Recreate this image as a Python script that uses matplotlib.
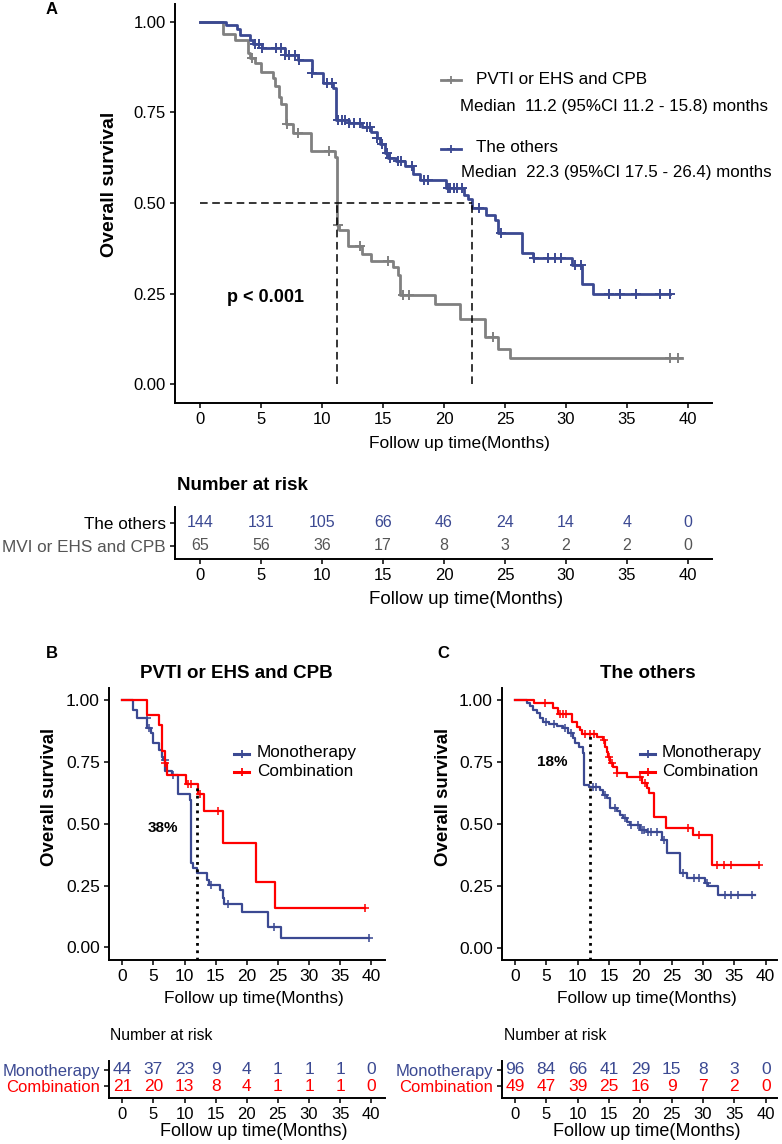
import numpy as np
import matplotlib
matplotlib.use('Agg')
import matplotlib.pyplot as plt
from matplotlib.lines import Line2D

plt.rcParams['font.family'] = ['Liberation Sans', 'DejaVu Sans']

# ---------------- data ----------------
# Panel A, PVTI or EHS and CPB (grey)
a_pvti_t = [1.9, 2.85, 3.9, 4.1, 4.5, 5.0, 5.95, 6.15, 6.5, 6.6, 7.05, 7.65, 9.1, 11.05, 11.2,
            11.42, 12.15, 13.25, 14.05, 15.85, 16.25, 16.4, 19.25, 21.3, 23.35, 24.45, 25.4]
a_pvti_s = [0.966, 0.949, 0.913, 0.899, 0.885, 0.860, 0.844, 0.822, 0.791, 0.773, 0.717, 0.694, 0.642, 0.627,
            0.439, 0.425, 0.38, 0.36, 0.340, 0.324, 0.301, 0.246, 0.222, 0.179, 0.130, 0.098, 0.073]
a_pvti_end = 39.5
a_pvti_cens = [4.3, 7.1, 8.0, 10.6, 11.3, 13.1, 15.4, 16.6, 17.1, 24.05, 38.5, 39.2]

# Panel A, the others (blue)
a_oth_t = [2.1, 3.0, 3.3, 4.1, 4.35, 5.05, 6.95, 8.05, 9.15, 10.1, 10.9, 11.15, 12.2, 13.25, 14.05, 14.5,
           14.75, 15.2, 15.4, 16.1, 16.8, 17.5, 18.0, 20.2, 21.6, 22.0, 22.3, 23.45, 24.2, 24.4, 26.4,
           27.3, 30.5, 31.3, 32.2]
a_oth_s = [0.991, 0.979, 0.963, 0.951, 0.940, 0.927, 0.908, 0.894, 0.859, 0.830, 0.816, 0.729, 0.720,
           0.710, 0.697, 0.678, 0.664, 0.637, 0.623, 0.616, 0.603, 0.581, 0.563, 0.540, 0.522, 0.510,
           0.485, 0.466, 0.453, 0.416, 0.363, 0.347, 0.328, 0.276, 0.250]
a_oth_end = 38.5
a_oth_cens = [4.5, 4.8, 5.1, 6.2, 6.6, 7.0, 7.3, 7.8, 8.1, 9.2, 10.4, 10.8, 11.3, 11.6, 11.9, 12.2, 12.6,
              13.1, 13.7, 13.9, 14.5, 14.9, 15.3, 15.6, 16.2, 16.5, 17.4, 18.4, 18.7, 20.3, 20.5, 20.8,
              21.05, 21.45, 22.9, 24.7, 27.4, 28.5, 29.1, 29.6, 30.7, 31.2, 33.5, 34.4, 35.7, 37.7, 38.5]

median_pvti = 11.2
median_oth = 22.3

# Panel B (PVTI or EHS and CPB): monotherapy / combination
b_mono_t = [1.77, 2.3, 4.02, 4.56, 4.99, 5.95, 6.33, 6.6, 6.92, 7.94, 9.0, 10.9, 11.05, 11.4, 11.96,
            13.57, 14.0, 15.7, 16.1, 16.35, 19.2, 23.4, 25.5]
b_mono_s = [0.961, 0.927, 0.887, 0.866, 0.826, 0.799, 0.772, 0.758, 0.715, 0.698, 0.621, 0.597, 0.340,
            0.320, 0.300, 0.273, 0.252, 0.232, 0.198, 0.175, 0.142, 0.084, 0.040]
b_mono_end = 39.6
b_mono_cens = [3.9, 4.3, 6.9, 8.2, 14.3, 17.0, 24.3, 39.6]

b_comb_t = [3.91, 5.9, 6.43, 6.86, 7.13, 10.24, 12.23, 13.14, 16.25, 21.45, 24.56]
b_comb_s = [0.939, 0.900, 0.796, 0.745, 0.698, 0.661, 0.621, 0.552, 0.424, 0.263, 0.158]
b_comb_end = 39.0
b_comb_cens = [6.9, 10.5, 11.1, 12.4, 15.4, 39.0]

# Panel C (the others): monotherapy / combination
c_mono_t = [1.97, 2.39, 2.93, 3.46, 3.99, 4.52, 5.48, 6.65, 7.71, 8.51, 9.2, 9.57, 10.27, 10.8, 11.06,
            11.86, 13.56, 14.1, 14.63, 15.16, 16.22, 16.76, 17.29, 17.82, 18.35, 19.95, 21.0, 23.4,
            24.2, 26.33, 27.4, 30.3, 30.85, 32.45]
c_mono_s = [0.991, 0.977, 0.961, 0.948, 0.927, 0.914, 0.905, 0.897, 0.887, 0.867, 0.847, 0.827, 0.813,
            0.786, 0.659, 0.652, 0.638, 0.618, 0.605, 0.565, 0.555, 0.538, 0.524, 0.511, 0.497, 0.477,
            0.468, 0.437, 0.383, 0.305, 0.282, 0.262, 0.253, 0.215]
c_mono_end = 38.3
c_mono_cens = [5.0, 6.2, 8.0, 9.0, 12.4, 13.0, 14.4, 16.0, 17.5, 18.5, 19.6, 20.3, 20.6, 21.3, 21.7,
               22.6, 23.7, 26.8, 28.5, 29.3, 30.6, 33.5, 34.5, 35.6, 37.8]

c_comb_t = [3.03, 6.12, 6.91, 9.04, 9.84, 10.37, 10.64, 13.03, 14.1, 14.36, 14.63, 14.89, 15.16, 15.69,
            16.22, 17.82, 20.21, 21.0, 21.44, 22.23, 24.1, 28.46, 31.38]
c_comb_s = [0.991, 0.968, 0.945, 0.914, 0.891, 0.880, 0.864, 0.851, 0.840, 0.813, 0.793, 0.773, 0.749,
            0.733, 0.706, 0.692, 0.665, 0.645, 0.625, 0.528, 0.484, 0.457, 0.336]
c_comb_end = 39.0
c_comb_cens = [4.8, 7.2, 7.7, 8.1, 11.2, 12.0, 12.6, 14.2, 15.0, 15.4, 16.3, 20.0, 20.8, 27.6, 29.4,
               32.3, 33.3, 34.5, 39.0]

landmark = 12

# numbers at risk
risk_times = [0, 5, 10, 15, 20, 25, 30, 35, 40]
risk_a_oth = [144, 131, 105, 66, 46, 24, 14, 4, 0]
risk_a_pvti = [65, 56, 36, 17, 8, 3, 2, 2, 0]
risk_b_mono = [44, 37, 23, 9, 4, 1, 1, 1, 0]
risk_b_comb = [21, 20, 13, 8, 4, 1, 1, 1, 0]
risk_c_mono = [96, 84, 66, 41, 29, 15, 8, 3, 0]
risk_c_comb = [49, 47, 39, 25, 16, 9, 7, 2, 0]

BLUE = '#3B4992'
GREY = '#808080'
RED = '#FF0000'
DGREY = '#555555'

W, H = 782, 1144
fig = plt.figure(figsize=(W / 100, H / 100), dpi=100)


def add_ax(l, t, r, b):
    return fig.add_axes([l / W, 1 - b / H, (r - l) / W, (b - t) / H])


def ftext(x, y, s, **kw):
    kw.setdefault('ha', 'center')
    kw.setdefault('va', 'center')
    return fig.text(x / W, 1 - y / H, s, **kw)


def surv_at(t, s, x):
    idx = np.searchsorted(t, x, side='right')
    vals = np.concatenate([[1.0], s])
    return vals[idx]


def km(ax, t, s, t_end, cens, color, lw, ms):
    xs = np.concatenate([[0], t, [t_end]])
    ys = np.concatenate([[1], s, [s[-1]]])
    ax.step(xs, ys, where='post', color=color, lw=lw)
    ax.plot(cens, surv_at(t, s, cens), ls='none', marker='+', ms=ms, mew=lw * 0.7, color=color)


def style(ax, xlim, ylim, fs, yticks=True):
    for sp in ['top', 'right']:
        ax.spines[sp].set_visible(False)
    for sp in ['left', 'bottom']:
        ax.spines[sp].set_linewidth(1.4)
    ax.set_xlim(*xlim)
    ax.set_ylim(*ylim)
    ax.set_xticks(risk_times)
    ax.tick_params(length=3.5, width=1.1, labelsize=fs, pad=3)
    if yticks:
        ax.set_yticks([0, 0.25, 0.5, 0.75, 1.0])
        ax.set_yticklabels(['0.00', '0.25', '0.50', '0.75', '1.00'])


def key(x0, x1, y, color, lw):
    fy = 1 - y / H
    fig.add_artist(Line2D([x0 / W, x1 / W], [fy, fy], color=color, lw=lw))
    fig.add_artist(Line2D([(x0 + x1) / 2 / W], [fy], marker='+', ms=6, mew=1.3, color=color))


def risk_table(ax, xlim, rows, labels, colors, num_colors, label_colors, fs_num, fs_lab, fs_tick):
    style(ax, xlim, (0, 1), fs_tick, yticks=False)
    ax.set_yticks(rows)
    ax.set_yticklabels(labels, fontsize=fs_lab)
    for lab, c in zip(ax.get_yticklabels(), label_colors):
        lab.set_color(c)
    for row, vals, c in zip(rows, colors, num_colors):
        for tt, v in zip(risk_times, vals):
            ax.text(tt, row, str(v), ha='center', va='center', fontsize=fs_num, color=c)


# ---------------- Panel A ----------------
axA = add_ax(175, 4, 712, 403)
style(axA, (-2.05, 41.97), (-0.052, 1.049), 12)
km(axA, a_pvti_t, a_pvti_s, a_pvti_end, a_pvti_cens, GREY, 2.0, 7)
km(axA, a_oth_t, a_oth_s, a_oth_end, a_oth_cens, BLUE, 2.0, 7)
dash = (0, (5, 3))
axA.plot([0, median_oth], [0.5, 0.5], color='black', lw=1.1, ls=dash)
axA.plot([median_pvti, median_pvti], [0, 0.5], color='black', lw=1.1, ls=dash)
axA.plot([median_oth, median_oth], [0, 0.5], color='black', lw=1.1, ls=dash)
axA.text(5.4, 0.24, 'p < 0.001', ha='center', va='center', fontsize=13, fontweight='bold')

ftext(52, 9, 'A', fontsize=12, fontweight='bold')
ftext(110, 184, 'Overall survival', rotation=90, fontsize=14, fontweight='bold')
ftext(459, 443, 'Follow up time(Months)', fontsize=12.5)

key(441, 461, 80, GREY, 2.0)
ftext(476, 80, 'PVTI or EHS and CPB', ha='left', fontsize=12.3)
ftext(460, 107, 'Median  11.2 (95%CI 11.2 - 15.8) months', ha='left', fontsize=12.2)
key(441, 461, 149, BLUE, 2.0)
ftext(476, 148, 'The others', ha='left', fontsize=12.3)
ftext(461, 173, 'Median  22.3 (95%CI 17.5 - 26.4) months', ha='left', fontsize=12.2)

# risk table A
tA = add_ax(175, 507, 712, 559)
risk_table(tA, (-2.05, 41.97), [0.698, 0.256], ['The others', 'MVI or EHS and CPB'],
           [risk_a_oth, risk_a_pvti], [BLUE, DGREY], ['black', DGREY], 11.5, 12.3, 12)
ftext(177, 485, 'Number at risk', ha='left', fontsize=13.5, fontweight='bold')
ftext(466, 599, 'Follow up time(Months)', fontsize=13.5)

# ---------------- Panels B and C ----------------
panels = [
    dict(l=109, r=385, xlim=(-2.14, 42.2), ylim=(-0.051, 1.05), letter='B', lx=52, title='PVTI or EHS and CPB',
         tx=236, ylx=50, xlx=254, mono=(b_mono_t, b_mono_s, b_mono_end, b_mono_cens),
         comb=(b_comb_t, b_comb_s, b_comb_end, b_comb_cens), pct='38%', pxy=(6.5, 0.483),
         k0=234, k1=249, kt=257, rl=110, risk=(risk_b_mono, risk_b_comb)),
    dict(l=502, r=777, xlim=(-2.07, 41.8), ylim=(-0.047, 1.05), letter='C', lx=443, title='The others',
         tx=648, ylx=443, xlx=647, mono=(c_mono_t, c_mono_s, c_mono_end, c_mono_cens),
         comb=(c_comb_t, c_comb_s, c_comb_end, c_comb_cens), pct='18%', pxy=(5.9, 0.751),
         k0=640, k1=655, kt=662, rl=504, risk=(risk_c_mono, risk_c_comb)),
]

for p in panels:
    ax = add_ax(p['l'], 688, p['r'], 960)
    style(ax, p['xlim'], p['ylim'], 12.5)
    km(ax, *p['mono'], BLUE, 1.6, 6)
    km(ax, *p['comb'], RED, 1.6, 6)
    ct, cs = p['comb'][0], p['comb'][1]
    ax.plot([landmark, landmark], [p['ylim'][0], surv_at(ct, cs, landmark)], color='black', lw=2.0, ls=':')
    ax.text(p['pxy'][0], p['pxy'][1], p['pct'], ha='center', va='center', fontsize=11, fontweight='bold')

    ftext(p['lx'], 653, p['letter'], fontsize=12, fontweight='bold')
    ftext(p['tx'], 673, p['title'], fontsize=13.5, fontweight='bold')
    ftext(p['ylx'], 797, 'Overall survival', rotation=90, fontsize=13.4, fontweight='bold')
    ftext(p['xlx'], 999, 'Follow up time(Months)', fontsize=12.4)

    key(p['k0'], p['k1'], 754, BLUE, 2.2)
    ftext(p['kt'], 753, 'Monotherapy', ha='left', fontsize=12.3)
    key(p['k0'], p['k1'], 772, RED, 2.2)
    ftext(p['kt'], 771, 'Combination', ha='left', fontsize=12.3)

    t = add_ax(p['l'], 1061, p['r'], 1098)
    risk_table(t, p['xlim'], [0.757, 0.324], ['Monotherapy', 'Combination'],
               list(p['risk']), [BLUE, RED], [BLUE, RED], 12.5, 12, 12)
    ftext(p['rl'], 1036, 'Number at risk', ha='left', fontsize=11.3)
    ftext(p['xlx'], 1132, 'Follow up time(Months)', fontsize=13)

fig.savefig('out.png', dpi=100)
